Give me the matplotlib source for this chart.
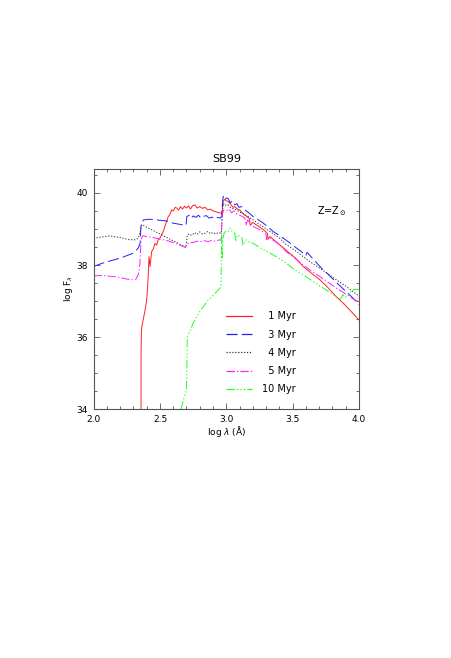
import matplotlib
matplotlib.use("Agg")
import matplotlib.pyplot as plt
from matplotlib.ticker import MultipleLocator, FormatStrFormatter

plt.rcParams['font.family'] = ['DejaVu Sans']
plt.rcParams['lines.scale_dashes'] = False

# ---------------- data (log lambda [A], log F_lambda) ----------------
red_x = [2.357, 2.357, 2.360, 2.366, 2.385, 2.400, 2.410, 2.417, 2.425, 2.437,
         2.450, 2.462, 2.475, 2.487, 2.500, 2.510, 2.525, 2.545, 2.562, 2.575,
         2.588, 2.600, 2.615, 2.626, 2.640, 2.655, 2.670, 2.685, 2.700, 2.715,
         2.730, 2.745, 2.764, 2.780, 2.800, 2.820, 2.840, 2.860, 2.880, 2.900,
         2.920, 2.940, 2.960, 2.968, 2.975, 2.985, 3.000, 3.015, 3.030, 3.050,
         3.065, 3.080, 3.100, 3.120, 3.140, 3.160, 3.175, 3.180, 3.200, 3.240,
         3.280, 3.310, 3.315, 3.330, 3.390, 3.455, 3.520, 3.580, 3.640, 3.706,
         3.760, 3.830, 3.880, 3.940, 4.000]
red_y = [34.00, 35.50, 36.20, 36.35, 36.70, 37.03, 37.60, 38.23, 37.96, 38.37,
         38.45, 38.60, 38.55, 38.70, 38.75, 38.82, 38.93, 39.16, 39.34, 39.40,
         39.53, 39.50, 39.60, 39.58, 39.52, 39.62, 39.55, 39.63, 39.58, 39.64,
         39.55, 39.64, 39.67, 39.58, 39.62, 39.57, 39.60, 39.53, 39.55, 39.50,
         39.48, 39.45, 39.44, 39.45, 39.75, 39.82, 39.78, 39.76, 39.70, 39.60,
         39.62, 39.56, 39.53, 39.45, 39.38, 39.33, 39.28, 39.10, 39.18, 39.08,
         38.98, 38.88, 38.72, 38.79, 38.60, 38.40, 38.20, 37.96, 37.78, 37.59,
         37.40, 37.12, 36.95, 36.72, 36.48]

blue_x = [2.000, 2.050, 2.100, 2.150, 2.200, 2.250, 2.300, 2.336, 2.350, 2.357,
          2.374, 2.420, 2.475, 2.550, 2.600, 2.675, 2.697, 2.702, 2.720, 2.735,
          2.750, 2.770, 2.790, 2.810, 2.830, 2.850, 2.870, 2.890, 2.910, 2.930,
          2.955, 2.965, 2.972, 2.977, 2.990, 3.000, 3.015, 3.030, 3.045, 3.065,
          3.080, 3.095, 3.116, 3.130, 3.150, 3.170, 3.203, 3.240, 3.280, 3.354,
          3.455, 3.580, 3.600, 3.610, 3.706, 3.830, 3.957, 4.000]
blue_y = [37.96, 38.03, 38.09, 38.14, 38.19, 38.26, 38.33, 38.47, 38.60, 39.11,
          39.25, 39.27, 39.25, 39.22, 39.16, 39.11, 39.10, 39.34, 39.38, 39.30,
          39.36, 39.32, 39.38, 39.30, 39.35, 39.37, 39.30, 39.33, 39.28, 39.32,
          39.30, 39.35, 39.75, 39.90, 39.80, 39.86, 39.84, 39.72, 39.78, 39.67,
          39.70, 39.60, 39.62, 39.56, 39.50, 39.45, 39.34, 39.26, 39.16, 38.93,
          38.68, 38.33, 38.26, 38.35, 37.96, 37.52, 37.08, 36.90]

gray_x = [2.000, 2.050, 2.120, 2.200, 2.270, 2.310, 2.336, 2.354, 2.362, 2.696,
          2.706, 2.720, 2.740, 2.760, 2.780, 2.800, 2.820, 2.840, 2.860, 2.880,
          2.900, 2.920, 2.940, 2.962, 2.970, 2.978, 2.990, 3.010, 3.030, 3.050,
          3.078, 3.100, 3.140, 3.203, 3.260, 3.329, 3.400, 3.455, 3.520, 3.580,
          3.640, 3.706, 3.770, 3.830, 3.900, 3.957, 4.000]
gray_y = [38.74, 38.77, 38.81, 38.76, 38.70, 38.70, 38.74, 38.97, 39.12, 38.49,
          38.83, 38.86, 38.82, 38.90, 38.85, 38.92, 38.86, 38.88, 38.93, 38.87,
          38.90, 38.86, 38.90, 38.88, 39.50, 39.71, 39.65, 39.68, 39.60, 39.56,
          39.53, 39.47, 39.40, 39.25, 39.10, 38.93, 38.75, 38.56, 38.40, 38.23,
          38.07, 37.91, 37.75, 37.59, 37.42, 37.26, 37.14]

mag_x = [2.000, 2.060, 2.120, 2.173, 2.249, 2.300, 2.320, 2.340, 2.349, 2.357,
         2.369, 2.450, 2.550, 2.626, 2.690, 2.704, 2.720, 2.750, 2.780, 2.800,
         2.830, 2.860, 2.890, 2.920, 2.950, 2.962, 2.970, 2.980, 3.000, 3.020,
         3.040, 3.060, 3.078, 3.100, 3.120, 3.140, 3.150, 3.160, 3.203, 3.266,
         3.300, 3.305, 3.329, 3.390, 3.455, 3.520, 3.580, 3.640, 3.706, 3.770,
         3.830, 3.900, 3.957, 4.000]
mag_y = [37.70, 37.71, 37.69, 37.67, 37.61, 37.59, 37.61, 37.77, 38.05, 38.70,
         38.81, 38.76, 38.68, 38.59, 38.49, 38.57, 38.62, 38.62, 38.66, 38.64,
         38.68, 38.65, 38.68, 38.66, 38.70, 38.68, 39.40, 39.53, 39.50, 39.55,
         39.45, 39.50, 39.42, 39.38, 39.35, 39.30, 39.10, 39.25, 39.07, 38.95,
         38.85, 38.70, 38.75, 38.60, 38.36, 38.18, 38.00, 37.84, 37.68, 37.52,
         37.36, 37.20, 37.06, 36.98]

green_x = [2.658, 2.680, 2.700, 2.703, 2.706, 2.730, 2.750, 2.775, 2.800, 2.830,
           2.864, 2.900, 2.940, 2.960, 2.965, 2.970, 2.975, 2.985, 3.000, 3.015,
           3.028, 3.050, 3.065, 3.070, 3.080, 3.100, 3.120, 3.125, 3.150, 3.180,
           3.203, 3.260, 3.329, 3.400, 3.455, 3.520, 3.580, 3.640, 3.706, 3.770,
           3.830, 3.860, 3.880, 3.900, 3.930, 3.950, 3.980, 4.000]
green_y = [34.00, 34.30, 34.54, 35.30, 36.01, 36.20, 36.39, 36.55, 36.71, 36.86,
           37.03, 37.15, 37.31, 37.40, 38.85, 38.20, 38.75, 38.90, 38.95, 38.93,
           39.02, 38.90, 38.88, 38.65, 38.82, 38.80, 38.75, 38.55, 38.70, 38.62,
           38.60, 38.47, 38.33, 38.18, 38.04, 37.86, 37.73, 37.58, 37.42, 37.27,
           37.12, 37.05, 37.18, 37.10, 37.22, 37.30, 37.33, 37.32]

labels = ["\u20071 Myr", "\u20073 Myr", "\u20074 Myr", "\u20075 Myr", "10 Myr"]
title = "SB99"
xlabel = r"log $\lambda$ ($\rm\AA$)"
ylabel = r"log F$_\lambda$"
annot = r"Z=Z$_\odot$"

# ---------------- figure ----------------
fig = plt.figure(figsize=(4.52, 6.58), dpi=100)
ax = fig.add_axes([0.2073, 0.378, 0.5866, 0.3656])

lw = 0.7
ax.plot(red_x, red_y, color='#ff2020', lw=lw, ls='-', label=labels[0])
ax.plot(blue_x, blue_y, color='#2020ff', lw=lw, dashes=(8, 3), label=labels[1])
ax.plot(gray_x, gray_y, color='#303030', lw=lw, dashes=(0.9, 1.2), label=labels[2])
ax.plot(mag_x, mag_y, color='#ff20ff', lw=lw, dashes=(6, 1.5, 1, 1.5), label=labels[3])
ax.plot(green_x, green_y, color='#20ff20', lw=lw,
        dashes=(6, 1.5, 1, 1.5, 1, 1.5, 1, 1.5), label=labels[4])

ax.set_xlim(2.0, 4.0)
ax.set_ylim(34.0, 40.67)
ax.xaxis.set_major_locator(MultipleLocator(0.5))
ax.xaxis.set_minor_locator(MultipleLocator(0.1))
ax.yaxis.set_major_locator(MultipleLocator(2))
ax.yaxis.set_minor_locator(MultipleLocator(0.5))
ax.tick_params(which='both', direction='in', top=True, right=True,
               labelsize=6.5, width=0.6, color='#555555')
ax.tick_params(which='major', length=4, pad=4)
ax.tick_params(which='minor', length=2.2)
ax.xaxis.set_major_formatter(FormatStrFormatter('%.1f'))
ax.yaxis.set_major_formatter(FormatStrFormatter('%d'))
for s in ax.spines.values():
    s.set_linewidth(0.8)
    s.set_color('#555555')

ax.set_title(title, fontsize=8, pad=5)
ax.set_xlabel(xlabel, fontsize=6.5, labelpad=0)
ax.set_ylabel(ylabel, fontsize=6.5, labelpad=1)
ax.text(0.898, 0.824, annot, transform=ax.transAxes, fontsize=7,
        ha='center', va='center')

leg = ax.legend(loc='upper left', bbox_to_anchor=(0.499, 0.407),
                frameon=False, fontsize=7, handlelength=2.7,
                handletextpad=1.0, labelspacing=0.85, borderpad=0,
                borderaxespad=0)
for h in leg.get_lines():
    h.set_linewidth(0.9)

fig.savefig("out.png", dpi=100)
